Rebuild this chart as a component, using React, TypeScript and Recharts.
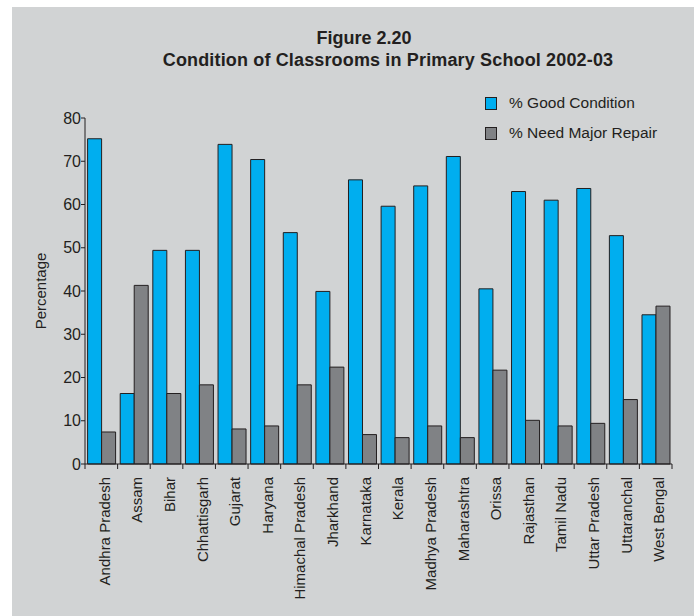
import React from "react"
import { Bar, BarChart, Label, Legend, XAxis, YAxis } from "recharts"

const states = [
  "Andhra Pradesh", "Assam", "Bihar", "Chhattisgarh", "Gujarat", "Haryana",
  "Himachal Pradesh", "Jharkhand", "Karnataka", "Kerala", "Madhya Pradesh",
  "Maharashtra", "Orissa", "Rajasthan", "Tamil Nadu", "Uttar Pradesh",
  "Uttaranchal", "West Bengal",
]
const goodCondition = [75.2, 16.3, 49.4, 49.4, 73.9, 70.4, 53.5, 39.9, 65.7, 59.6, 64.3, 71.1, 40.5, 63.0, 61.0, 63.7, 52.8, 34.5]
const needMajorRepair = [7.4, 41.3, 16.3, 18.3, 8.1, 8.8, 18.3, 22.4, 6.8, 6.1, 8.8, 6.1, 21.7, 10.1, 8.8, 9.4, 14.9, 36.5]
const yTicks = [0, 10, 20, 30, 40, 50, 60, 70, 80]
const seriesNames = ["% Good Condition", "% Need Major Repair"]

const data = states.map((state, i) => ({
  state,
  good: goodCondition[i],
  repair: needMajorRepair[i],
}))

const INK = "#231f20"
const BLUE = "#00aeef"
const GREY = "#808285"
const BG = "#d1d3d4"
const FONT = "'Liberation Sans', Arial, Helvetica, sans-serif"

const W = 694
const H = 616
const MARGIN = { top: 118, right: 22, left: 45, bottom: 12 }
const Y_AXIS_W = 40
const PLOT_W = W - MARGIN.left - MARGIN.right - Y_AXIS_W
const BAND = PLOT_W / states.length

function StateTick(props: any) {
  const { x, y, payload, index } = props
  const last = index === states.length - 1
  return (
    <g>
      <line x1={x - BAND / 2} y1={y} x2={x - BAND / 2} y2={y + 5} stroke={INK} strokeWidth={1} />
      {last && <line x1={x + BAND / 2} y1={y} x2={x + BAND / 2} y2={y + 5} stroke={INK} strokeWidth={1} />}
      <text
        transform={`translate(${x + 8.5},${y + 13}) rotate(-90)`}
        textAnchor="end"
        fontSize={15}
        fill={INK}
        fontFamily={FONT}
      >
        {payload.value}
      </text>
    </g>
  )
}

function LegendBox() {
  const colors = [BLUE, GREY]
  return (
    <div style={{ fontFamily: FONT, fontSize: 15.5, color: INK }}>
      {seriesNames.map((name, i) => (
        <div key={name} style={{ display: "flex", alignItems: "center", height: 30 }}>
          <span
            style={{
              display: "inline-block",
              width: 10,
              height: 11,
              background: colors[i],
              border: `1.5px solid ${INK}`,
              marginRight: 12,
            }}
          />
          {name}
        </div>
      ))}
    </div>
  )
}

export default function App() {
  return (
    <div style={{ position: "absolute", left: 0, top: 0, width: W, height: H, fontFamily: FONT }}>
      <div style={{ position: "absolute", left: 12, top: 7, width: W - 12, height: H - 7, background: BG }} />
      <div style={{ position: "absolute", left: 0, top: 28, width: 728, textAlign: "center", fontWeight: "bold", fontSize: 18, color: INK }}>
        Figure 2.20
      </div>
      <div style={{ position: "absolute", left: 0, top: 50, width: 776, textAlign: "center", fontWeight: "bold", fontSize: 18, letterSpacing: 0.15, color: INK }}>
        Condition of Classrooms in Primary School 2002-03
      </div>
      <div style={{ position: "absolute", left: 0, top: 0 }}>
        <BarChart width={W} height={H} data={data} margin={MARGIN} barGap={0} barCategoryGap={2.6}>
          <XAxis
            dataKey="state"
            interval={0}
            height={140}
            tickSize={0}
            tickMargin={0}
            tick={<StateTick />}
            axisLine={{ stroke: INK, strokeWidth: 1 }}
          />
          <YAxis
            width={Y_AXIS_W}
            domain={[0, 80]}
            ticks={yTicks}
            tickSize={4}
            tickMargin={0}
            axisLine={{ stroke: INK, strokeWidth: 1 }}
            tickLine={{ stroke: INK, strokeWidth: 1 }}
            tick={{ fill: INK, fontSize: 16, fontFamily: FONT }}
          >
            <Label
              content={() => (
                <text
                  transform="translate(46,291) rotate(-90)"
                  textAnchor="middle"
                  fontSize={15}
                  fill={INK}
                  fontFamily={FONT}
                >
                  Percentage
                </text>
              )}
            />
          </YAxis>
          <Legend
            layout="horizontal"
            align="center"
            verticalAlign="middle"
            content={() => <LegendBox />}
            wrapperStyle={{ position: "absolute", left: 485, top: 88, width: 200 }}
          />
          <Bar dataKey="good" name={seriesNames[0]} fill={BLUE} stroke={INK} strokeWidth={1} isAnimationActive={false} />
          <Bar dataKey="repair" name={seriesNames[1]} fill={GREY} stroke={INK} strokeWidth={1} isAnimationActive={false} />
        </BarChart>
      </div>
    </div>
  )
}
